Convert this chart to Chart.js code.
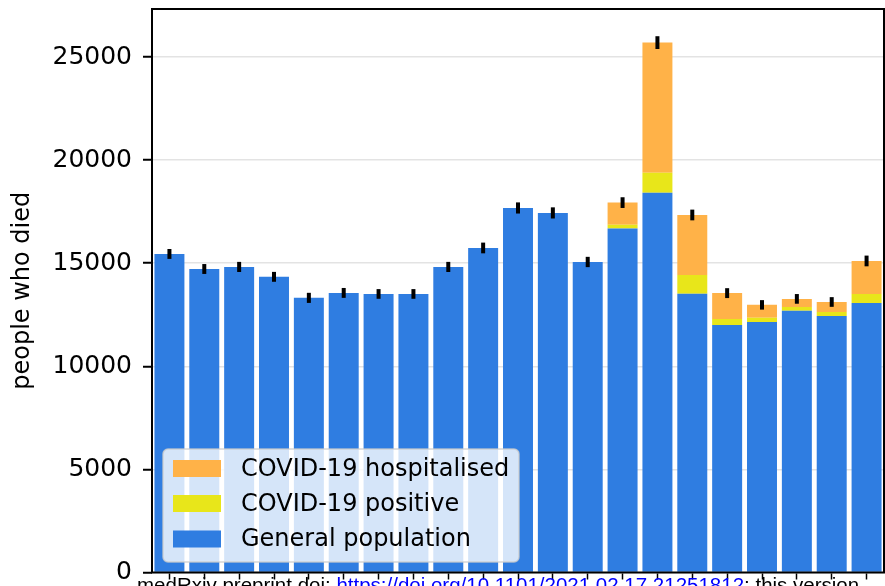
<!DOCTYPE html>
<html>
<head>
<meta charset="utf-8">
<script src="https://cdn.jsdelivr.net/npm/chart.js@4.4.1/dist/chart.umd.min.js"></script>
<style>
  html, body { margin: 0; padding: 0; background: #fff; }
  canvas { display: block; }
</style>
</head>
<body>
<canvas id="grafica" width="885" height="586"></canvas>
<script>
// semanas (sin etiquetas visibles en la figura)
const semanas = ['1','2','3','4','5','6','7','8','9','10','11','12','13','14','15','16','17','18','19','20','21'];

// poblacion general
const generalPop = [15450, 14720, 14820, 14340, 13320, 13560, 13510, 13510, 14820, 15740,
                    17680, 17440, 15060, 16680, 18420, 13520, 12000, 12150, 12690, 12440, 13070];
// COVID-19 positivo
const covidPositive = [0, 0, 0, 0, 0, 0, 0, 0, 0, 0,
                       0, 0, 0, 190, 970, 910, 290, 200, 190, 190, 440];
// COVID-19 hospitalizado
const covidHospital = [0, 0, 0, 0, 0, 0, 0, 0, 0, 0,
                       0, 0, 0, 1070, 6310, 2910, 1260, 630, 390, 490, 1600];
// barras de error (+/-)
const errores = [240, 240, 245, 240, 245, 240, 235, 235, 245, 260,
                 270, 270, 250, 260, 310, 260, 240, 230, 235, 235, 260];

const yTicks = [0, 5000, 10000, 15000, 20000, 25000];

const azul = 'rgb(47,125,225)';
const amarillo = 'rgb(232,230,26)';
const naranja = 'rgb(255,178,72)';

const FONT = "'DejaVu Sans', sans-serif";

// barras de error, marco y leyenda dibujados encima
const extras = {
    id: 'extras',
    afterDatasetsDraw(chart) {
        const ctx = chart.ctx;
        const y = chart.scales.y;
        const x = chart.scales.x;
        ctx.save();
        ctx.strokeStyle = '#000';
        ctx.lineWidth = 4;
        semanas.forEach((s, i) => {
            const total = generalPop[i] + covidPositive[i] + covidHospital[i];
            const cx = x.getPixelForValue(i);
            ctx.beginPath();
            ctx.moveTo(cx, y.getPixelForValue(total - errores[i]));
            ctx.lineTo(cx, y.getPixelForValue(total + errores[i]));
            ctx.stroke();
        });
        ctx.restore();
    },
    afterDraw(chart) {
        const ctx = chart.ctx;
        const a = chart.chartArea;
        ctx.save();
        // marco
        ctx.strokeStyle = '#000';
        ctx.lineWidth = 2;
        ctx.strokeRect(a.left, a.top, a.right - a.left, a.bottom - a.top);

        // leyenda
        const bx = 163, by = 449, bw = 356, bh = 113, r = 5;
        ctx.beginPath();
        ctx.moveTo(bx + r, by);
        ctx.arcTo(bx + bw, by, bx + bw, by + bh, r);
        ctx.arcTo(bx + bw, by + bh, bx, by + bh, r);
        ctx.arcTo(bx, by + bh, bx, by, r);
        ctx.arcTo(bx, by, bx + bw, by, r);
        ctx.closePath();
        ctx.fillStyle = 'rgba(255,255,255,0.8)';
        ctx.fill();
        ctx.strokeStyle = 'rgba(204,204,204,0.8)';
        ctx.lineWidth = 1.5;
        ctx.stroke();

        const items = [chart.data.datasets[2], chart.data.datasets[1], chart.data.datasets[0]];
        const filas = [468.5, 503.5, 539];
        ctx.font = '24px ' + FONT;
        ctx.textBaseline = 'middle';
        ctx.textAlign = 'left';
        items.forEach((ds, k) => {
            ctx.fillStyle = ds.backgroundColor;
            ctx.fillRect(173, filas[k] - 8.5, 48, 17);
            ctx.fillStyle = '#000';
            ctx.fillText(ds.label, 241, filas[k] + 1);
        });

        // pie de pagina del preprint
        ctx.font = "20.5px 'Liberation Sans', Arial, sans-serif";
        ctx.textBaseline = 'alphabetic';
        let px = 137;
        const partes = [
            ['medRxiv preprint doi: ', '#000'],
            ['https://doi.org/10.1101/2021.02.17.21251812', '#0000ff'],
            ['; this version', '#000']
        ];
        partes.forEach(([t, c]) => {
            ctx.fillStyle = c;
            ctx.fillText(t, px, 592);
            px += ctx.measureText(t).width;
        });
        ctx.restore();
    }
};

const ctx = document.getElementById('grafica').getContext('2d');

const miGrafica = new Chart(ctx, {
    type: 'bar',
    data: {
        labels: semanas,
        datasets: [
            { label: 'General population', data: generalPop, backgroundColor: azul },
            { label: 'COVID-19 positive', data: covidPositive, backgroundColor: amarillo },
            { label: 'COVID-19 hospitalised', data: covidHospital, backgroundColor: naranja }
        ]
    },
    options: {
        responsive: false,
        animation: false,
        layout: { padding: { top: 9, right: 1, left: 0, bottom: 0 } },
        datasets: {
            bar: { barPercentage: 0.86, categoryPercentage: 1.0, borderWidth: 0 }
        },
        plugins: {
            legend: { display: false },
            tooltip: { enabled: false }
        },
        scales: {
            x: {
                stacked: true,
                offset: true,
                grid: { display: true, drawOnChartArea: false, tickLength: 7, tickColor: '#000', tickWidth: 1.5, offset: false },
                border: { display: false },
                ticks: { display: false },
                afterFit(axis) {
                    axis.height = 13.5;
                    axis.paddingLeft = 0;
                    axis.paddingRight = 0;
                }
            },
            y: {
                stacked: true,
                min: 0,
                max: 27330,
                afterBuildTicks(axis) {
                    axis.ticks = yTicks.map(v => ({ value: v }));
                },
                grid: { color: '#e3e3e3', lineWidth: 1.5, tickLength: 9, tickColor: '#000', tickWidth: 2 },
                border: { display: false },
                ticks: {
                    color: '#000',
                    padding: 11,
                    font: { family: FONT, size: 25 },
                    callback: v => String(v)
                },
                title: {
                    display: true,
                    text: 'people who died',
                    color: '#000',
                    font: { family: FONT, size: 24 },
                    padding: { top: 8, bottom: 0 }
                },
                afterFit(axis) {
                    axis.width = 152;
                    axis.paddingTop = 0;
                    axis.paddingBottom = 0;
                }
            }
        }
    },
    plugins: [extras]
});
</script>
</body>
</html>
